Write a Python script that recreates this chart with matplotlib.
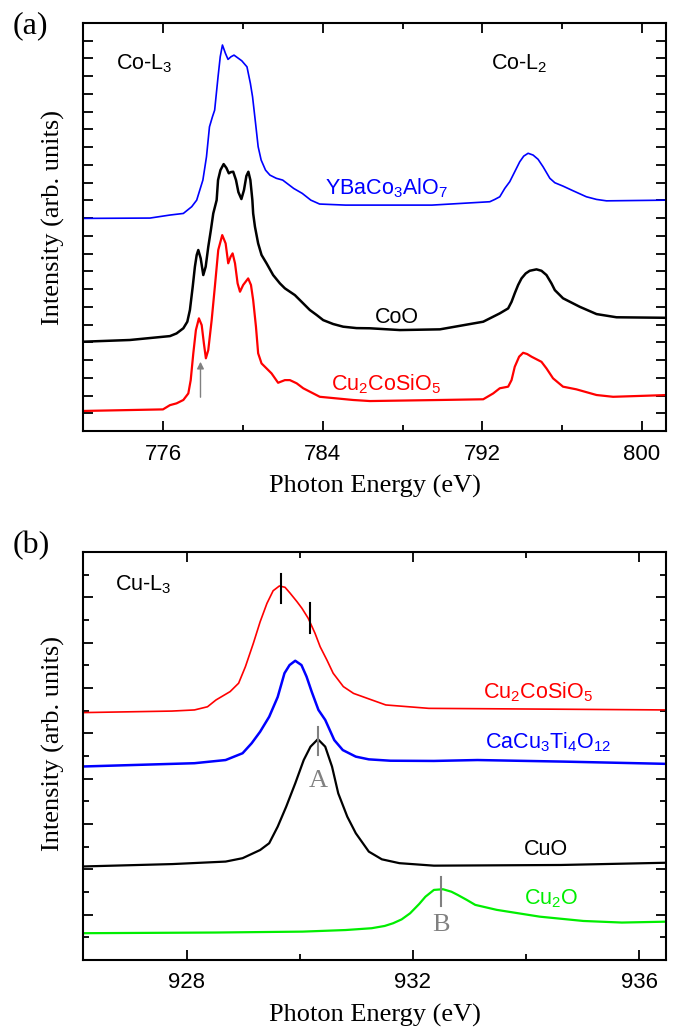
import matplotlib as mpl
import matplotlib.pyplot as plt

mpl.rcParams["font.family"] = ["Liberation Sans", "DejaVu Sans"]
mpl.rcParams["mathtext.fontset"] = "custom"
mpl.rcParams["mathtext.rm"] = "Liberation Sans"
mpl.rcParams["mathtext.it"] = "Liberation Sans:italic"
mpl.rcParams["mathtext.bf"] = "Liberation Sans:bold"

SERIF = ["Liberation Serif", "DejaVu Serif"]

# %% (a) Co-L2,3 spectra, stacked with vertical offsets (arb. units)

ybco_e = [771.9, 775.34, 776.34, 777.01, 777.43, 777.68, 777.99, 778.17, 778.32, 778.47,
          778.58, 778.75, 778.86, 778.97, 779.12, 779.25, 779.40, 779.55, 779.77, 779.94,
          780.20, 780.37, 780.48, 780.63, 780.76, 780.91, 781.13, 781.35, 781.67, 781.99,
          782.54, 782.97, 783.40, 783.84, 785.14, 789.47, 792.37, 792.62, 792.87, 793.12,
          793.37, 793.62, 793.87, 794.07, 794.29, 794.54, 794.79, 795.04, 795.38, 795.63,
          796.04, 796.54, 797.21, 797.72, 798.22, 801.3]
ybco_i = [11.98, 12.0, 12.17, 12.26, 12.64, 13.01, 14.14, 15.45, 17.14, 17.71,
          18.08, 19.96, 21.09, 21.75, 21.28, 20.94, 21.09, 21.18, 21.00, 20.86,
          20.52, 19.59, 18.83, 17.34, 16.02, 15.27, 14.70, 14.42, 14.24, 14.14,
          13.67, 13.39, 13.01, 12.79, 12.73, 12.73, 12.92, 13.05, 13.20, 13.67,
          14.05, 14.61, 15.17, 15.49, 15.65, 15.55, 15.31, 14.89, 14.24, 13.99,
          13.80, 13.54, 13.20, 13.05, 12.97, 13.01]

coo_e = [771.9, 774.33, 776.34, 776.67, 777.01, 777.21, 777.34, 777.48, 777.59, 777.68,
         777.76, 777.88, 778.01, 778.13, 778.26, 778.39, 778.51, 778.68, 778.75, 778.87,
         779.03, 779.17, 779.29, 779.39, 779.51, 779.65, 779.77, 779.92, 780.05, 780.17,
         780.27, 780.37, 780.47, 780.51, 780.60, 780.76, 780.93, 781.18, 781.51, 781.85,
         782.10, 782.35, 782.60, 782.94, 783.35, 783.69, 784.02, 784.52, 785.02, 785.69,
         786.36, 787.86, 789.87, 792.04, 792.87, 793.29, 793.46, 793.62, 793.79, 793.96,
         794.17, 794.37, 794.71, 794.96, 795.21, 795.46, 795.63, 796.04, 796.88, 797.72,
         798.72, 801.3]
coo_i = [5.03, 5.13, 5.35, 5.50, 5.79, 6.16, 6.82, 8.13, 9.26, 9.92,
         10.20, 9.73, 8.79, 9.26, 10.38, 11.32, 12.26, 13.01, 14.14, 14.70,
         15.04, 14.82, 14.52, 14.59, 14.61, 14.14, 13.46, 13.07, 13.58, 14.37,
         14.61, 14.14, 13.01, 12.26, 11.51, 10.57, 9.92, 9.45, 8.79, 8.32,
         8.04, 7.85, 7.66, 7.28, 6.82, 6.54, 6.25, 6.03, 5.88, 5.80,
         5.79, 5.69, 5.73, 6.16, 6.63, 6.91, 7.28, 7.76, 8.23, 8.60,
         8.88, 9.03, 9.11, 9.03, 8.79, 8.32, 7.94, 7.48, 7.00, 6.59,
         6.41, 6.38]

ccso_e = [771.9, 775.99, 776.34, 776.67, 777.01, 777.26, 777.38, 777.51, 777.64, 777.79,
          777.93, 778.04, 778.14, 778.26, 778.43, 778.59, 778.76, 778.96, 779.13, 779.26,
          779.38, 779.48, 779.60, 779.73, 779.85, 780.01, 780.26, 780.40, 780.51, 780.65,
          780.76, 780.93, 781.18, 781.43, 781.76, 782.10, 782.35, 782.69, 783.02, 783.85,
          785.52, 786.36, 789.87, 792.04, 792.54, 792.87, 793.29, 793.46, 793.62, 793.84,
          794.04, 794.24, 794.46, 794.96, 795.21, 795.54, 796.04, 796.71, 797.72, 798.55,
          801.3]
ccso_i = [1.13, 1.22, 1.46, 1.56, 1.75, 2.12, 2.87, 4.38, 5.69, 6.35,
          5.97, 4.94, 4.10, 4.56, 6.25, 8.13, 10.20, 11.04, 10.57, 9.45,
          9.82, 10.01, 9.45, 8.32, 7.85, 8.23, 8.60, 8.23, 7.38, 5.88,
          4.38, 3.81, 3.53, 3.25, 2.72, 2.87, 2.87, 2.69, 2.41, 1.93,
          1.75, 1.69, 1.75, 1.79, 2.12, 2.41, 2.50, 2.87, 3.62, 4.19,
          4.41, 4.34, 4.19, 3.90, 3.53, 2.97, 2.50, 2.35, 2.03, 1.93,
          2.03]

# %% (b) Cu-L3 spectra

cu_ccso_e = [926.1, 927.74, 928.14, 928.37, 928.52, 928.77, 928.92, 929.04, 929.18, 929.30,
             929.42, 929.53, 929.64, 929.74, 929.83, 929.95, 930.04, 930.15, 930.27, 930.36,
             930.48, 930.59, 930.77, 930.95, 931.24, 931.52, 932.28, 936.5]
cu_ccso_i = [10.91, 10.98, 11.03, 11.17, 11.47, 11.84, 12.21, 12.94, 13.97, 14.92,
             15.73, 16.29, 16.50, 16.44, 16.18, 15.81, 15.51, 15.07, 14.41, 13.82,
             13.23, 12.65, 12.06, 11.76, 11.50, 11.25, 11.10, 11.03]

ccto_e = [926.1, 928.14, 928.69, 928.99, 929.15, 929.30, 929.46, 929.61, 929.73, 929.82,
          929.92, 930.03, 930.12, 930.21, 930.33, 930.45, 930.61, 930.76, 930.99, 931.22,
          931.60, 932.37, 933.14, 934.67, 936.5]
ccto_i = [8.53, 8.68, 8.82, 9.12, 9.56, 10.07, 10.73, 11.6, 12.65, 13.01,
          13.20, 13.01, 12.50, 11.84, 11.03, 10.59, 9.70, 9.26, 8.97, 8.85,
          8.79, 8.78, 8.82, 8.75, 8.65]

cuo_e = [926.1, 927.75, 928.69, 928.99, 929.30, 929.46, 929.61, 929.76, 929.92, 930.07,
         930.19, 930.32, 930.45, 930.57, 930.68, 930.84, 930.99, 931.22, 931.45, 931.76,
         932.37, 934.61, 936.5]
cuo_i = [4.12, 4.23, 4.34, 4.49, 4.85, 5.15, 5.88, 6.76, 7.79, 8.82,
         9.41, 9.74, 9.41, 8.53, 7.35, 6.32, 5.59, 4.78, 4.44, 4.27,
         4.16, 4.19, 4.29]

cu2o_e = [926.15, 928.52, 930.05, 930.81, 931.27, 931.50, 931.65, 931.80, 931.95, 932.11,
          932.22, 932.37, 932.53, 932.68, 932.79, 932.95, 933.10, 933.48, 933.86, 934.24,
          935.01, 935.69, 936.5]
cu2o_i = [1.18, 1.21, 1.25, 1.32, 1.40, 1.50, 1.62, 1.79, 2.06, 2.47,
          2.79, 3.09, 3.12, 3.01, 2.87, 2.65, 2.43, 2.21, 2.06, 1.91,
          1.72, 1.65, 1.69]

# markers: (energy, low, high)
ccso_marks = [(929.66, 15.73, 17.03), (930.18, 14.44, 15.73)]
peak_a = (930.32, 9.04, 10.29)
peak_b = (932.50, 2.38, 3.67)


def style_axes(ax, xmaj, xmin):
    for s in ax.spines.values():
        s.set_linewidth(1.5)
    ax.set_xticks(xmaj)
    ax.set_xticks(xmin, minor=True)
    ax.tick_params(which="both", direction="in", top=True, right=True,
                   width=1.3, labelsize=16, pad=9, labelleft=False)
    ax.tick_params(which="major", length=7)
    ax.tick_params(which="minor", length=4)
    ax.set_xlabel("Photon Energy (eV)", fontsize=19, family=SERIF)
    ax.xaxis.set_label_coords(0.5, -0.107)
    ax.set_ylabel("Intensity (arb. units)", fontsize=19, family=SERIF)


fig = plt.figure(figsize=(6.74, 10.29), dpi=100)

# %% (a)
ax1 = fig.add_axes([0.1231, 0.5811, 0.8650, 0.3962])
ax1.plot(ybco_e, ybco_i, color="#0000ff", lw=1.2)
ax1.plot(coo_e, coo_i, color="black", lw=1.8)
ax1.plot(ccso_e, ccso_i, color="#ff0000", lw=1.6)
ax1.annotate("", xy=(777.87, 4.06), xytext=(777.87, 1.75),
             arrowprops=dict(arrowstyle="-|>", color="gray", lw=1, mutation_scale=10))
ax1.set_xlim(771.98, 801.2)
ax1.set_ylim(0, 22.97)
style_axes(ax1, [776, 784, 792, 800], [780, 788, 796])
ax1.set_yticks(range(1, 23))
ax1.yaxis.set_label_coords(-0.031, 0.525)

ax1.text(773.66, 20.4, "Co-L$_3$", fontsize=15.5)
ax1.text(792.42, 20.4, "Co-L$_2$", fontsize=15.5)
ax1.text(784.1, 13.35, "YBaCo$_3$AlO$_7$", fontsize=15.5, color="#0000ff")
ax1.text(786.6, 6.08, "CoO", fontsize=15.5, color="black")
ax1.text(784.4, 2.31, "Cu$_2$CoSiO$_5$", fontsize=15.5, color="#ff0000")
fig.text(13 / 674, 1 - 11 / 1029, "(a)", fontsize=23, family=SERIF, va="top")

# %% (b)
ax2 = fig.add_axes([0.1231, 0.0671, 0.8650, 0.3965])
ax2.plot(cu_ccso_e, cu_ccso_i, color="#ff0000", lw=1.2)
ax2.plot(ccto_e, ccto_i, color="#0000ff", lw=1.8)
ax2.plot(cuo_e, cuo_i, color="black", lw=1.6)
ax2.plot(cu2o_e, cu2o_i, color="#00ee00", lw=1.6)
for e, lo, hi in ccso_marks:
    ax2.plot([e, e], [lo, hi], color="black", lw=1.5)
for (e, lo, hi), name, ty in [(peak_a, "A", 7.9), (peak_b, "B", 1.54)]:
    ax2.plot([e, e], [lo, hi], color="gray", lw=1.5)
    ax2.text(e, ty, name, fontsize=19, family=SERIF, color="gray", ha="center", va="center")
ax2.set_xlim(926.17, 936.47)
ax2.set_ylim(0, 18.0)
style_axes(ax2, [928, 932, 936], [930, 934])
ax2.set_yticks(range(0, 19, 2))
ax2.set_yticks(range(1, 18, 2), minor=True)
ax2.yaxis.set_label_coords(-0.031, 0.53)

ax2.text(926.74, 16.3, "Cu-L$_3$", fontsize=15.5)
ax2.text(933.23, 11.56, "Cu$_2$CoSiO$_5$", fontsize=15.5, color="#ff0000")
ax2.text(933.28, 9.35, "CaCu$_3$Ti$_4$O$_{12}$", fontsize=15.5, color="#0000ff")
ax2.text(933.96, 4.63, "CuO", fontsize=15.5, color="black")
ax2.text(933.96, 2.43, "Cu$_2$O", fontsize=15.5, color="#00ee00")
fig.text(13 / 674, 1 - 531 / 1029, "(b)", fontsize=23, family=SERIF, va="top")

fig.savefig("out.png", dpi=100)
